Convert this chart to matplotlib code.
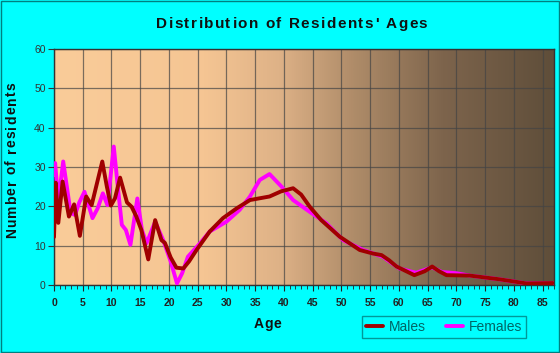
import matplotlib
matplotlib.use("Agg")
import matplotlib.pyplot as plt
import numpy as np
from matplotlib.colors import LinearSegmentedColormap
from matplotlib.ticker import MultipleLocator
from matplotlib.font_manager import findfont, FontProperties, get_font

plt.rcParams['font.family'] = ['Liberation Sans', 'DejaVu Sans']

title = "Distribution of Residents' Ages"
x_label = "Age"
y_label = "Number of residents"

male_age = [0, 0.3, 0.75, 1.5, 2.6, 3.5, 4.5, 5.6, 6.55, 7.5, 8.4, 9.2, 9.9, 10.6,
            11.5, 12.7, 13.5, 14.3, 15.2, 16.4, 17.6, 18.7, 19.3, 20.3, 21.3, 22.5,
            23.5, 24.8, 27.1, 29.4, 31.8, 34.1, 37.5, 39.5, 41.6, 43, 44.5, 46.5,
            49.7, 53.2, 55.5, 57, 58.3, 59.6, 62.7, 64.5, 65.8, 67, 68.3, 72.3,
            77.5, 82.2, 86.8]
male_val = [12.2, 26, 15.8, 26.3, 17.4, 20.5, 12.5, 22.5, 20.3, 26, 31.4, 25, 20.2, 22,
            27.3, 21, 19.9, 17.5, 14, 6.5, 16.5, 11.4, 10.7, 7, 4.4, 4.2,
            6, 8.9, 13.6, 17, 19.5, 21.6, 22.5, 23.8, 24.6, 23, 19.9, 16.5,
            12.3, 8.9, 8, 7.6, 6.3, 4.7, 2.5, 3.5, 4.7, 3.5, 2.5, 2.4,
            1.45, 0.4, 0.5]

female_age = [0, 0.2, 0.75, 1.6, 2.9, 3.65, 4.4, 5.3, 6.7, 7.6, 8.5, 9.3, 10.4, 11.1,
              11.8, 12.5, 13.3, 14.5, 15.3, 16.1, 17.6, 19, 20.3, 21.4, 22.3, 23.3,
              25.4, 27.1, 30, 32.3, 34.1, 35.8, 37.5, 39.6, 41.6, 44.5, 47.4, 50.3,
              53.8, 57.2, 60.1, 63, 65.8, 67.5, 70, 72.3, 77.5, 82.2, 86.8]
female_val = [28, 31, 21.2, 31.4, 18.3, 17.8, 21, 23.7, 17, 19.5, 23.3, 20.3, 35.2, 25,
              15.3, 14, 10.2, 22, 14, 10.6, 16.1, 11.4, 6, 0.4, 3, 7.2,
              10.6, 13.6, 16.1, 19.1, 22.5, 26.7, 28.2, 25, 21.6, 18.6, 15.7, 11.4,
              8.9, 7.2, 4.2, 3.1, 4.5, 3.3, 3, 2.4, 1.45, 0.4, 0.5]

x_ticks = list(range(0, 90, 5))
y_ticks = list(range(0, 70, 10))

W, H, DPI = 560, 353, 100
fig = plt.figure(figsize=(W / DPI, H / DPI), dpi=DPI, facecolor='#00FFFF')
ax = fig.add_axes([54/W, 68/H, 500/W, 236/H])


def spaced_text(s, cx, cy, size, spacing, rotation=0, weight='bold', color='#111111'):
    """Draw text centred at pixel (cx, cy from top) with extra letter spacing."""
    fp = FontProperties(family='Liberation Sans', weight=weight)
    font = get_font(findfont(fp))
    font.set_size(size, DPI)
    glyphs = [font.load_char(ord(c)) for c in s]
    advs = [g.linearHoriAdvance / 65536.0 for g in glyphs]
    bears = [g.horiBearingX / 64.0 for g in glyphs]
    total = sum(advs) + spacing * (len(s) - 1)
    pos = -total / 2.0
    for c, a, b in zip(s, advs, bears):
        if c != ' ':
            off = pos + b
            if rotation == 0:
                x, y = cx + off, cy
            else:
                x, y = cx, cy - off
            fig.text(x / W, 1 - y / H, c, fontproperties=fp, fontsize=size,
                     color=color, rotation=rotation, ha='left', va='baseline',
                     rotation_mode='anchor')
        pos += a + spacing


# gradient background
cmap = LinearSegmentedColormap.from_list('bg', [
    (0.0, (250/255, 204/255, 153/255)),
    (0.30, (245/255, 197/255, 147/255)),
    (0.45, (222/255, 178/255, 135/255)),
    (0.60, (175/255, 140/255, 105/255)),
    (0.78, (125/255, 100/255, 76/255)),
    (1.0, (95/255, 78/255, 58/255)),
])
grad = np.linspace(0, 1, 512).reshape(1, -1)
ax.imshow(grad, cmap=cmap, aspect='auto', extent=(0, 1, 0, 1),
          transform=ax.transAxes, zorder=0)

ax.plot(female_age, female_val, color='#FF00FF', lw=2.8, zorder=3,
        solid_joinstyle='round', solid_capstyle='round', label='Females')
ax.plot(male_age, male_val, color='#A00000', lw=2.8, zorder=4,
        solid_joinstyle='round', solid_capstyle='round', label='Males')

ax.set_xlim(0, 87)
ax.set_ylim(0, 60)
ax.set_xticks(x_ticks)
ax.set_yticks(y_ticks)
ax.xaxis.set_minor_locator(MultipleLocator(1))
ax.grid(True, which='major', color='#444444', lw=0.9, alpha=0.7)
for gl in ax.get_xgridlines() + ax.get_ygridlines():
    gl.set_zorder(1)

ax.tick_params(axis='x', which='major', direction='out', length=4, labelsize=7.5,
               colors='#222222', pad=5)
ax.tick_params(axis='x', which='minor', direction='out', length=3, color='#222222')
ax.tick_params(axis='y', direction='out', length=4, labelsize=7.5,
               colors='#333333', pad=2)
for lbl in ax.get_xticklabels():
    lbl.set_fontweight('bold')

for s in ax.spines.values():
    s.set_color('#333333')
    s.set_linewidth(1.0)

# baselines: title ~28, Age ~328, ylabel baseline x ~16
spaced_text(title, 291, 28, 11, 1.5)
spaced_text(x_label, 267, 328, 10, 0.8)
spaced_text(y_label, 16, 161, 10, 1.2, rotation=90)

h, l = ax.get_legend_handles_labels()
leg = fig.legend(h[::-1], l[::-1], loc='center', bbox_to_anchor=(444/W, 1 - 327/H),
                 ncol=2, frameon=True, fontsize=10, handlelength=1.2,
                 handletextpad=0.4, columnspacing=1.5, borderpad=0.3,
                 fancybox=False, facecolor='#00FFFF', edgecolor='#008080')
for t in leg.get_texts():
    t.set_color('#006666')

fig.patches.append(plt.Rectangle((0.002, 0.003), 0.996, 0.994, transform=fig.transFigure,
                                 fill=False, edgecolor='#008080', lw=1.0))

fig.savefig('out.png', dpi=DPI, facecolor=fig.get_facecolor())
